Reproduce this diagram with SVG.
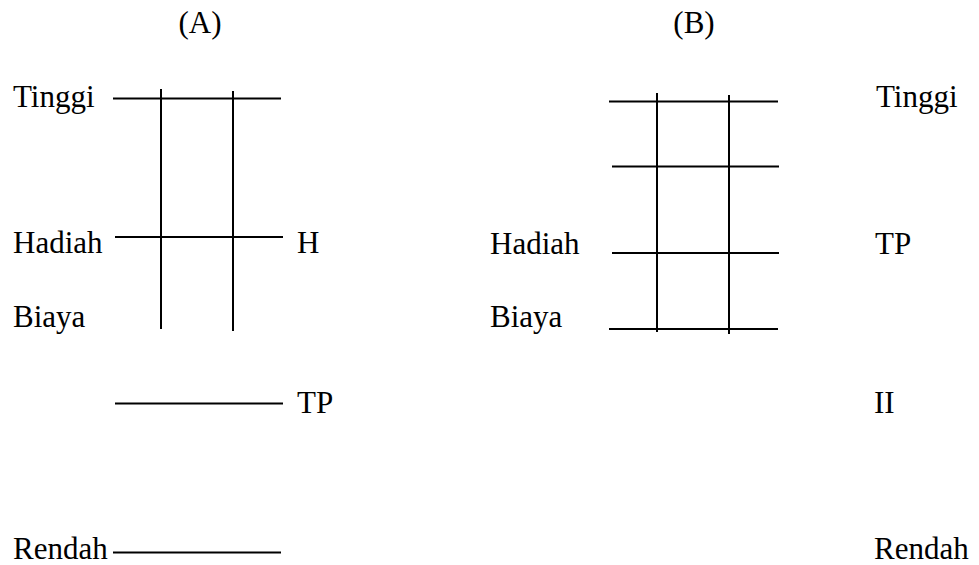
<svg xmlns="http://www.w3.org/2000/svg" width="979" height="565" viewBox="0 0 979 565">
<style>
text{font-family:"Liberation Serif","Times New Roman",serif;font-size:31px;fill:#000}
line{stroke:#000;stroke-width:2}
</style>
<rect width="979" height="565" fill="#fff"/>
<g id="panel-a">
<text x="200" y="33" text-anchor="middle">(A)</text>
<text x="13" y="107">Tinggi</text>
<text x="13" y="253">Hadiah</text>
<text x="297" y="253">H</text>
<text x="13" y="327">Biaya</text>
<text x="297" y="413">TP</text>
<text x="13" y="559">Rendah</text>
</g>
<g id="panel-b">
<text x="694" y="33" text-anchor="middle">(B)</text>
<text x="876" y="107">Tinggi</text>
<text x="490" y="254">Hadiah</text>
<text x="875" y="254">TP</text>
<text x="490" y="327">Biaya</text>
<text x="874" y="413">II</text>
<text x="874" y="559">Rendah</text>
</g>
<g id="connectors">
<line x1="113" y1="98.5" x2="281" y2="98.5"/>
<line x1="115" y1="237" x2="283" y2="237"/>
<line x1="115" y1="403.5" x2="283" y2="403.5"/>
<line x1="113" y1="552.5" x2="281" y2="552.5"/>
<line x1="161" y1="89" x2="161" y2="329"/>
<line x1="233" y1="91" x2="233" y2="331"/>
<line x1="609" y1="101.5" x2="778" y2="101.5"/>
<line x1="612" y1="166.5" x2="779" y2="166.5"/>
<line x1="612" y1="253" x2="779" y2="253"/>
<line x1="609" y1="329" x2="778" y2="329"/>
<line x1="657" y1="93" x2="657" y2="332"/>
<line x1="729" y1="95" x2="729" y2="334"/>
</g>
</svg>
